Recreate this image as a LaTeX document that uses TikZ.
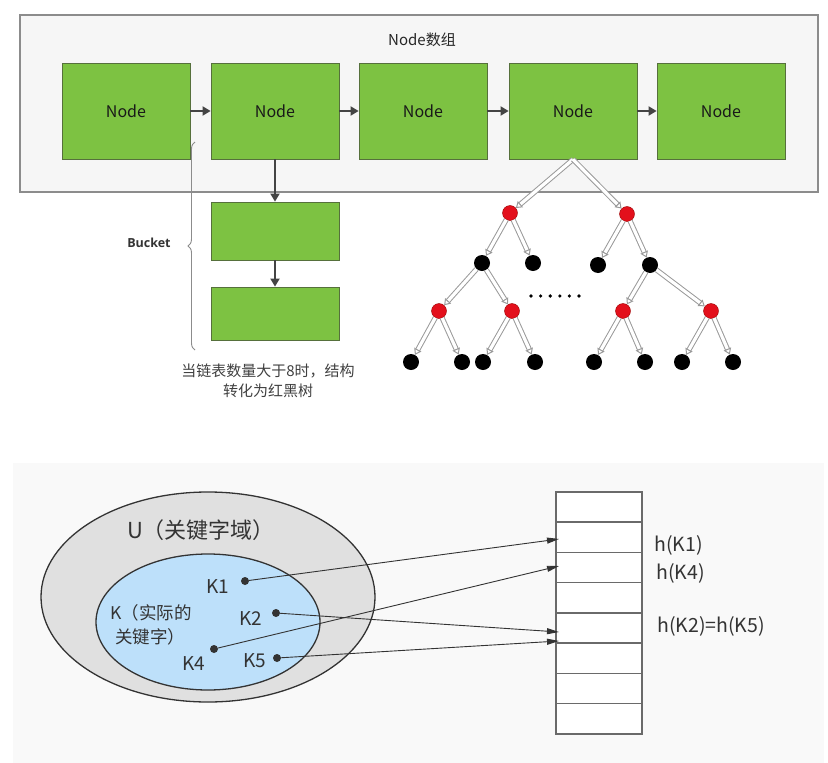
\documentclass[tikz,border=0pt]{standalone}
\usepackage{fontspec}
\setmainfont{Noto Sans CJK SC}
\newfontfamily\latinbold{Open Sans}
\usetikzlibrary{arrows.meta,decorations.pathreplacing,shapes.geometric}

\definecolor{nodegreen}{HTML}{7DC242}
\definecolor{nodeedge}{HTML}{56703C}
\definecolor{arrowgray}{HTML}{444444}
\definecolor{framegray}{HTML}{8C8C8C}
\definecolor{framefill}{HTML}{F6F6F6}
\definecolor{rbred}{HTML}{E3101C}
\definecolor{treegray}{HTML}{9A9A9A}
\definecolor{ugray}{HTML}{E0E0E0}
\definecolor{kblue}{HTML}{BDE0FA}
\definecolor{inkgray}{HTML}{333333}
\definecolor{cellgray}{HTML}{6A6A6A}
\definecolor{bggray}{HTML}{F9F9F9}

\tikzset{
  greenbox/.style={draw=nodeedge, fill=nodegreen, line width=0.8pt,
    minimum width=128, minimum height=96, inner sep=0pt,
    font=\fontsize{16}{18}\selectfont, text=black!90},
  bucketbox/.style={draw=nodeedge, fill=nodegreen, line width=0.8pt,
    minimum width=128, inner sep=0pt},
  linkarrow/.style={draw=arrowgray, line width=1.8pt, -{Triangle[length=8pt,width=9pt]}},
  rbarrow/.style={draw=treegray, double=white, double distance=3.2pt, line width=1pt,
    -{Triangle[open,length=6pt,width=8pt]}},
  rednode/.style={circle, fill=rbred, draw=red!60!black, line width=0.4pt,
    minimum size=15, inner sep=0pt},
  blacknode/.style={circle, fill=black, minimum size=16, inner sep=0pt},
  keydot/.style={circle, fill=inkgray, minimum size=8, inner sep=0pt},
  keylabel/.style={text=inkgray, font=\fontsize{19}{21}\selectfont, inner sep=0pt},
  hashlabel/.style={text=inkgray, font=\fontsize{19.5}{21}\selectfont, inner sep=0pt, anchor=west},
  hasharrow/.style={draw=inkgray, line width=0.9pt, -{Triangle[length=12pt,width=6pt]}},
  cell/.style={draw=cellgray, line width=1.6pt,
    minimum width=86, minimum height=30.25, inner sep=0pt}
}

\begin{document}
\begin{tikzpicture}[x=1pt, y=-1pt]
    \useasboundingbox (0,0) rectangle (828,763);

    % Node array frame
    \node[draw=framegray, fill=framefill, line width=1.3pt,
      minimum width=798, minimum height=177, inner sep=0pt] (frame) at (419,103.5) {};
    \node[font=\fontsize{15}{17}\selectfont, text=black!85] (title) at (422,40) {Node数组};

    % Array nodes
    \node[greenbox] (node1) at (126,111) {Node};
    \node[greenbox] (node2) at (275,111) {Node};
    \node[greenbox] (node3) at (423,111) {Node};
    \node[greenbox] (node4) at (573,111) {Node};
    \node[greenbox] (node5) at (721,111) {Node};

    % Links between array nodes
    \draw[linkarrow] (node1) -- (node2);
    \draw[linkarrow] (node2) -- (node3);
    \draw[linkarrow] (node3) -- (node4);
    \draw[linkarrow] (node4) -- (node5);

    % Bucket list
    \node[bucketbox, minimum height=58] (bucket1) at (275,231) {};
    \node[bucketbox, minimum height=53] (bucket2) at (275,313.5) {};
    \draw[linkarrow] (node2) -- (bucket1);
    \draw[linkarrow] (bucket1) -- (bucket2);

    % Brace
    \coordinate (braceTop) at (195,142);
    \coordinate (braceBot) at (195,350);
    \draw[draw=framegray, line width=0.9pt, decorate,
      decoration={brace, amplitude=7pt}] (braceBot) -- (braceTop);
    \node[font=\latinbold\bfseries\fontsize{12.5}{14}\selectfont, text=black!80] (bucketlabel) at (149,243) {Bucket};

    % Note
    \node[align=center, font=\fontsize{15}{20}\selectfont, text=black!75] (note) at (268,381)
      {当链表数量大于8时，结构\\转化为红黑树};

    % Red-black tree nodes
    \node[rednode] (tL) at (510,213) {};
    \node[rednode] (tR) at (627,214) {};
    \node[blacknode] (bL1) at (482,263) {};
    \node[blacknode] (bL2) at (533,263) {};
    \node[blacknode] (bR1) at (598,265) {};
    \node[blacknode] (bR2) at (650,265) {};
    \node[rednode] (rL1) at (439,311) {};
    \node[rednode] (rL2) at (512,311) {};
    \node[rednode] (rR1) at (623,311) {};
    \node[rednode] (rR2) at (711,311) {};
    \node[blacknode] (leaf1) at (411,362) {};
    \node[blacknode] (leaf2) at (462,362) {};
    \node[blacknode] (leaf3) at (483,362) {};
    \node[blacknode] (leaf4) at (535,362) {};
    \node[blacknode] (leaf5) at (594,362) {};
    \node[blacknode] (leaf6) at (645,362) {};
    \node[blacknode] (leaf7) at (682,362) {};
    \node[blacknode] (leaf8) at (733,362) {};

    % Tree edges
    \draw[rbarrow] (node4.south) -- (tL);
    \draw[rbarrow] (node4.south) -- (tR);
    \draw[rbarrow] (tL) -- (bL1);
    \draw[rbarrow] (tL) -- (bL2);
    \draw[rbarrow] (tR) -- (bR1);
    \draw[rbarrow] (tR) -- (bR2);
    \draw[rbarrow] (bL1) -- (rL1);
    \draw[rbarrow] (bL1) -- (rL2);
    \draw[rbarrow] (bR2) -- (rR1);
    \draw[rbarrow] (bR2) -- (rR2);
    \draw[rbarrow] (rL1) -- (leaf1);
    \draw[rbarrow] (rL1) -- (leaf2);
    \draw[rbarrow] (rL2) -- (leaf3);
    \draw[rbarrow] (rL2) -- (leaf4);
    \draw[rbarrow] (rR1) -- (leaf5);
    \draw[rbarrow] (rR1) -- (leaf6);
    \draw[rbarrow] (rR2) -- (leaf7);
    \draw[rbarrow] (rR2) -- (leaf8);

    % Dots between subtrees
    \fill (531,296) circle (1.8);
    \fill (540.6,296) circle (1.8);
    \fill (550.2,296) circle (1.8);
    \fill (559.8,296) circle (1.8);
    \fill (569.4,296) circle (1.8);
    \fill (579,296) circle (1.8);

    % Hash section background
    \fill[bggray] (13,463) rectangle (824,763);

    % Key sets
    \node[ellipse, draw=inkgray, fill=ugray, line width=1.3pt,
      minimum width=334, minimum height=210, inner sep=0pt] (Udom) at (208,597) {};
    \node[ellipse, draw=inkgray, fill=kblue, line width=1.3pt,
      minimum width=224, minimum height=136, inner sep=0pt] (Kset) at (208,622) {};
    \node[text=inkgray, font=\fontsize{22}{24}\selectfont] (Ulabel) at (201,530) {U（关键字域）};
    \node[text=inkgray, font=\fontsize{17.5}{20}\selectfont, anchor=west, inner sep=0pt] (Klabel1) at (110,613) {K（实际的};
    \node[text=inkgray, font=\fontsize{17.5}{20}\selectfont, anchor=west, inner sep=0pt] (Klabel2) at (115,637) {关键字）};

    % Keys
    \node[keydot] (k1) at (245,581) {};
    \node[keydot] (k2) at (276,613) {};
    \node[keydot] (k4) at (214,649) {};
    \node[keydot] (k5) at (277,658) {};
    \node[keylabel] (k1label) at (218,587) {K1};
    \node[keylabel] (k2label) at (251,619) {K2};
    \node[keylabel] (k4label) at (194,664) {K4};
    \node[keylabel] (k5label) at (255,661) {K5};

    % Hash table
    \fill[white] (556,492) rectangle (642,734);
    \node[cell] (cell1) at (599,507) {};
    \node[cell] (cell2) at (599,537.25) {};
    \node[cell] (cell3) at (599,567.5) {};
    \node[cell] (cell4) at (599,597.75) {};
    \node[cell] (cell5) at (599,628) {};
    \node[cell] (cell6) at (599,658.25) {};
    \node[cell] (cell7) at (599,688.5) {};
    \node[cell] (cell8) at (599,718.75) {};

    % Hash arrows
    \coordinate (h1) at (559,539);
    \coordinate (h4) at (559,566);
    \coordinate (h2) at (559,632);
    \coordinate (h5) at (559,641);
    \draw[hasharrow] (k1) -- (h1);
    \draw[hasharrow] (k4) -- (h4);
    \draw[hasharrow] (k2) -- (h2);
    \draw[hasharrow] (k5) -- (h5);

    % Hash labels
    \node[hashlabel] (hK1) at (654,545) {h(K1)};
    \node[hashlabel] (hK4) at (656,573) {h(K4)};
    \node[hashlabel] (hK25) at (657,626) {h(K2)=h(K5)};

\end{tikzpicture}
\end{document}
